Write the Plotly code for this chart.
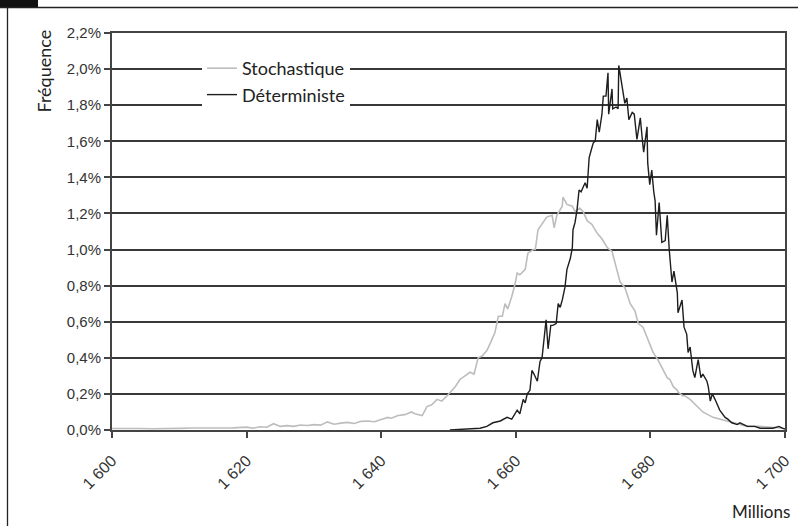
import plotly.graph_objects as go

# Stochastique (grey) — x in millions, y in %
sto_x = [1600, 1602, 1604, 1606, 1608, 1610, 1612, 1614, 1616, 1618, 1620, 1621, 1622, 1623,
         1624, 1625, 1626, 1627, 1628, 1629, 1630, 1631, 1632, 1633, 1634, 1635, 1636, 1637,
         1638, 1639, 1640, 1641, 1641.5, 1642.5, 1643.5, 1644.5, 1645, 1646.1, 1646.8, 1647.5,
         1648.3, 1649, 1649.8, 1650.3, 1651, 1651.7, 1652.5, 1653.2, 1653.8, 1654.4, 1655,
         1655.7, 1656.2, 1656.9, 1657.4, 1658.0, 1658.4, 1658.8, 1659.4, 1659.9, 1660.2,
         1660.6, 1661.4, 1661.8, 1662.6, 1662.9, 1663.3, 1664.0, 1664.6, 1665.4, 1665.7,
         1666.1, 1666.9, 1667.0, 1667.6, 1668.4, 1668.8, 1669.5, 1670.0, 1670.6, 1671.3,
         1672.1, 1672.8, 1673.6, 1674.3, 1675.0, 1675.5, 1676.2, 1677.0, 1677.7, 1678.2,
         1678.9, 1679.6, 1680.4, 1681.1, 1681.9, 1682.5, 1682.9, 1683.4, 1684.0, 1684.1,
         1684.8, 1685.1, 1685.9, 1686.9, 1687.8, 1689.3, 1690.8, 1692.3, 1693.3, 1694.4,
         1696.3, 1697.8, 1699.7]
sto_y = [0.008, 0.006, 0.008, 0.007, 0.010, 0.009, 0.011, 0.010, 0.013, 0.012, 0.016, 0.010,
         0.018, 0.015, 0.035, 0.020, 0.024, 0.020, 0.028, 0.025, 0.030, 0.027, 0.045, 0.032,
         0.038, 0.042, 0.036, 0.048, 0.050, 0.046, 0.058, 0.070, 0.065, 0.080, 0.085, 0.100,
         0.090, 0.080, 0.130, 0.140, 0.170, 0.160, 0.190, 0.210, 0.240, 0.280, 0.300, 0.320,
         0.310, 0.400, 0.410, 0.440, 0.480, 0.540, 0.630, 0.630, 0.700, 0.670, 0.740, 0.810,
         0.870, 0.860, 0.890, 0.980, 1.000, 1.000, 1.110, 1.150, 1.180, 1.190, 1.120, 1.190,
         1.240, 1.290, 1.250, 1.240, 1.210, 1.230, 1.210, 1.160, 1.140, 1.090, 1.060, 1.010,
         0.990, 0.890, 0.820, 0.790, 0.700, 0.660, 0.590, 0.570, 0.500, 0.430, 0.390, 0.330,
         0.290, 0.280, 0.240, 0.220, 0.210, 0.190, 0.190, 0.170, 0.130, 0.100, 0.070, 0.055,
         0.040, 0.030, 0.020, 0.020, 0.015, 0.010]

# Déterministe (black)
det_x = [1650.2, 1652.5, 1654.7, 1655.7, 1656.6, 1657.7, 1658.7, 1659.4, 1660.2, 1660.6,
         1661.1, 1661.4, 1661.7, 1662.1, 1662.4, 1662.7, 1663.2, 1663.6, 1663.9, 1664.5,
         1664.8, 1665.2, 1665.5, 1666.0, 1666.3, 1666.6, 1666.9, 1667.3, 1667.6, 1668.1,
         1668.4, 1668.5, 1668.8, 1669.1, 1669.4, 1669.7, 1670.0, 1670.3, 1670.6, 1670.9,
         1671.2, 1671.5, 1671.8, 1672.1, 1672.4, 1672.8, 1673.0, 1673.4, 1673.7, 1673.8,
         1674.3, 1674.4, 1674.9, 1675.2, 1675.3, 1675.8, 1675.9, 1676.2, 1676.5, 1676.8,
         1677.3, 1677.6, 1678.0, 1678.5, 1678.8, 1679.0, 1679.5, 1679.6, 1679.9, 1680.2,
         1680.5, 1680.7, 1680.9, 1681.3, 1681.7, 1682.2, 1682.5, 1682.8, 1683.2, 1683.5,
         1684.0, 1684.1, 1684.7, 1685.0, 1685.4, 1685.6, 1685.9, 1686.3, 1686.6, 1687.1,
         1687.5, 1687.8, 1688.4, 1688.6, 1688.9, 1689.2, 1689.6, 1690.3, 1691.1, 1691.5,
         1692.1, 1692.9, 1693.3, 1694.4, 1695.5, 1696.3, 1698.2, 1699.1, 1699.6, 1700.0]
det_y = [0.000, 0.005, 0.010, 0.020, 0.040, 0.050, 0.070, 0.060, 0.110, 0.090,
         0.170, 0.150, 0.200, 0.220, 0.330, 0.310, 0.270, 0.380, 0.400, 0.610,
         0.450, 0.580, 0.580, 0.590, 0.700, 0.680, 0.720, 0.790, 0.890, 0.950,
         1.010, 1.110, 1.150, 1.220, 1.330, 1.320, 1.350, 1.370, 1.340, 1.510,
         1.550, 1.590, 1.600, 1.720, 1.650, 1.750, 1.850, 1.850, 1.980, 1.750,
         1.890, 1.780, 1.790, 1.780, 2.020, 1.900, 1.880, 1.810, 1.840, 1.720,
         1.760, 1.750, 1.610, 1.730, 1.610, 1.540, 1.680, 1.480, 1.360, 1.440,
         1.320, 1.270, 1.080, 1.260, 1.040, 1.050, 1.190, 1.000, 0.820, 0.880,
         0.760, 0.650, 0.720, 0.570, 0.530, 0.430, 0.460, 0.330, 0.290, 0.390,
         0.290, 0.310, 0.270, 0.240, 0.160, 0.200, 0.170, 0.110, 0.070, 0.060,
         0.040, 0.030, 0.040, 0.020, 0.020, 0.010, 0.010, 0.020, 0.010, 0.005]

x_ticks = [1600, 1620, 1640, 1660, 1680, 1700]
y_ticks = [0.0, 0.2, 0.4, 0.6, 0.8, 1.0, 1.2, 1.4, 1.6, 1.8, 2.0, 2.2]
y_ticktext = [f"{v:.1f}".replace(".", ",") + "%" for v in y_ticks]
x_ticktext = [f"{v // 1000} {v % 1000:03d}" for v in x_ticks]

W, H = 798, 526
L, R, T, B = 112, 13, 33, 96
pw, ph = W - L - R, H - T - B


def px(xp):
    return (xp - L) / pw


def py(yp):
    return (H - B - yp) / ph


fig = go.Figure()
fig.add_trace(go.Scatter(x=sto_x, y=sto_y, mode="lines", name="Stochastique",
                         line=dict(color="#bdbdbd", width=1.6)))
fig.add_trace(go.Scatter(x=det_x, y=det_y, mode="lines", name="Déterministe",
                         line=dict(color="#1e1e1e", width=1.4)))

tickfont = dict(family="Liberation Sans, Arial, sans-serif", size=15, color="#333333")
fig.update_layout(
    width=W, height=H,
    margin=dict(l=L, r=R, t=T, b=B, pad=0, autoexpand=False),
    paper_bgcolor="white", plot_bgcolor="white",
    showlegend=True,
    legend=dict(x=px(202), y=py(50), xanchor="left", yanchor="top",
                bgcolor="white", borderwidth=0,
                font=dict(family="Lato, sans-serif", size=18, color="#222222"),
                tracegroupgap=0, itemwidth=30),
    xaxis=dict(range=[1600, 1700], tickmode="array", tickvals=x_ticks, ticktext=x_ticktext,
               tickangle=-45, automargin=False, ticklabelstandoff=7,
               showgrid=False, zeroline=False, showline=True, linecolor="#444444",
               linewidth=2, mirror=True, ticks="outside", ticklen=6, tickwidth=1.5,
               tickcolor="#444444",
               tickfont=dict(family="Liberation Sans, Arial, sans-serif", size=16,
                             color="#333333")),
    yaxis=dict(range=[0, 2.2], tickmode="array", tickvals=y_ticks, ticktext=y_ticktext,
               automargin=False,
               showgrid=True, gridcolor="#383838", gridwidth=1.6, zeroline=False,
               showline=True, linecolor="#444444", linewidth=2, mirror=True,
               ticks="outside", ticklen=6, tickwidth=1.5, tickcolor="#444444",
               tickfont=tickfont),
    annotations=[
        dict(text="Fréquence", xref="paper", yref="paper", x=px(43), y=py(28),
             xanchor="center", yanchor="top", textangle=-90, showarrow=False,
             font=dict(family="Lato, sans-serif", size=18, color="#222222")),
        dict(text="Millions", xref="paper", yref="paper", x=px(792), y=py(511),
             xanchor="right", yanchor="middle", showarrow=False,
             font=dict(family="Lato, sans-serif", size=17, color="#222222")),
    ],
    shapes=[
        dict(type="rect", xref="paper", yref="paper", x0=px(0), x1=px(38), y0=py(0), y1=py(7.5),
             fillcolor="#111111", line=dict(width=0)),
        dict(type="line", xref="paper", yref="paper", x0=px(0), x1=px(798), y0=py(7.5), y1=py(7.5),
             line=dict(color="#222222", width=1.3)),
        dict(type="line", xref="paper", yref="paper", x0=px(7.5), x1=px(7.5), y0=py(7.5), y1=py(526),
             line=dict(color="#222222", width=1.3)),
    ],
)

fig.write_html("out.html", config={"displayModeBar": False},
               post_script="document.body.style.margin='0';document.body.style.overflow='hidden';")
